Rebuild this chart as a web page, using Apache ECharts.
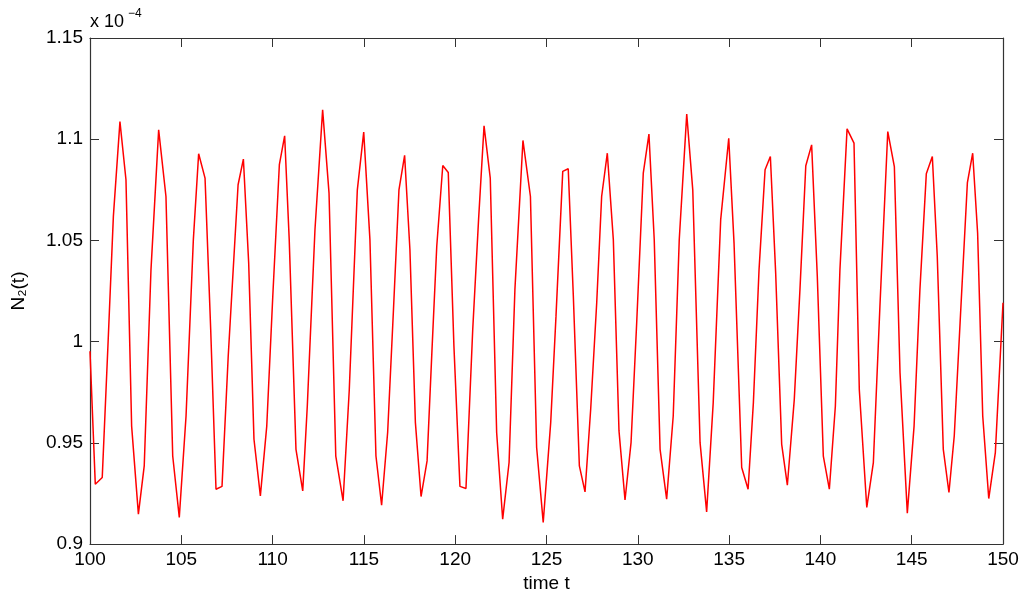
<!DOCTYPE html>
<html>
<head>
<meta charset="utf-8">
<script src="https://cdn.jsdelivr.net/npm/echarts@6/dist/echarts.min.js"></script>
<style>
html,body{margin:0;padding:0;background:#fff;}
#chart{width:1024px;height:598px;}
</style>
</head>
<body>
<div id="chart"></div>
<script>
// time values (t)
const tValues = [100.00,100.29,100.67,100.99,101.28,101.64,101.97,102.28,102.65,102.97,103.34,103.76,104.16,104.53,104.89,105.26,105.66,105.95,106.30,106.61,106.90,107.23,107.57,108.11,108.40,108.69,108.98,109.33,109.68,110.01,110.37,110.66,110.91,111.28,111.65,111.90,112.32,112.74,113.09,113.46,113.86,114.20,114.64,114.99,115.33,115.66,115.97,116.30,116.62,116.92,117.23,117.52,117.82,118.13,118.46,118.73,118.99,119.32,119.62,119.93,120.26,120.59,120.96,121.28,121.58,121.92,122.27,122.60,122.95,123.27,123.71,124.12,124.46,124.82,125.23,125.52,125.89,126.19,126.47,126.80,127.11,127.42,127.75,128.02,128.33,128.66,128.97,129.30,129.63,129.94,130.30,130.61,130.90,131.22,131.58,131.94,132.27,132.68,133.01,133.41,133.77,134.13,134.54,134.98,135.27,135.69,136.04,136.33,136.64,136.97,137.26,137.55,137.88,138.19,138.57,138.88,139.20,139.52,139.83,140.16,140.49,140.82,141.07,141.46,141.84,142.13,142.54,142.90,143.26,143.69,144.05,144.36,144.76,145.13,145.45,145.80,146.13,146.40,146.73,147.04,147.33,147.65,148.05,148.34,148.61,148.89,149.22,149.58,150.00];
// N2(t) values in units of 1e-4
const nValues = [0.9953,0.9296,0.9329,0.9996,1.0619,1.1087,1.0800,0.9583,0.9148,0.9386,1.0356,1.1046,1.0717,0.9435,0.9132,0.9633,1.0504,1.0928,1.0808,1.0060,0.9271,0.9285,0.9929,1.0775,1.0902,1.0389,0.9518,0.9238,0.9583,1.0224,1.0874,1.1017,1.0504,0.9468,0.9263,0.9682,1.0553,1.1145,1.0734,0.9435,0.9214,0.9764,1.0750,1.1035,1.0504,0.9435,0.9192,0.9551,1.0159,1.0750,1.0920,1.0455,0.9600,0.9235,0.9411,0.9962,1.0471,1.0870,1.0836,0.9978,0.9285,0.9275,1.0060,1.0603,1.1066,1.0808,0.9551,0.9123,0.9403,1.0257,1.0994,1.0717,0.9477,0.9107,0.9600,1.0126,1.0841,1.0854,1.0224,0.9386,0.9258,0.9666,1.0192,1.0717,1.0931,1.0504,0.9559,0.9218,0.9501,1.0095,1.0833,1.1025,1.0504,0.9468,0.9222,0.9633,1.0504,1.1124,1.0750,0.9501,0.9159,0.9699,1.0603,1.1005,1.0488,0.9378,0.9271,0.9699,1.0356,1.0849,1.0915,1.0340,0.9493,0.9291,0.9715,1.0257,1.0869,1.0972,1.0323,0.9435,0.9271,0.9682,1.0356,1.1051,1.0981,0.9764,0.9181,0.9403,1.0175,1.1038,1.0865,0.9847,0.9153,0.9583,1.0257,1.0829,1.0915,1.0422,0.9468,0.9255,0.9534,1.0093,1.0786,1.0931,1.0537,0.9633,0.9225,0.9452,1.0192];
const xMin = 100, xMax = 150, xStep = 5;
const yMin = 0.9, yMax = 1.15, yStep = 0.05;

const FONT = '"Liberation Sans", Arial, Helvetica, sans-serif';
const chart = echarts.init(document.getElementById('chart'), null, {renderer: 'canvas'});
const data = tValues.map((t, i) => [t, nValues[i]]);

const lineCol = '#333';
function xAx(pos, labels) {
  return {
    type: 'value', min: xMin, max: xMax, interval: xStep, position: pos,
    axisLine: {show: true, onZero: false, lineStyle: {color: lineCol, width: 1.2}},
    axisTick: {show: true, inside: true, length: 9, lineStyle: {color: lineCol, width: 1}},
    splitLine: {show: false},
    axisLabel: {show: labels, fontSize: 19, color: '#000', fontFamily: FONT, margin: 6},
    name: labels ? 'time t' : '', nameLocation: 'middle', nameGap: 27,
    nameTextStyle: {fontSize: 19, color: '#000', fontFamily: FONT}
  };
}
function yAx(pos, labels) {
  return {
    type: 'value', min: yMin, max: yMax, interval: yStep, position: pos,
    axisLine: {show: true, onZero: false, lineStyle: {color: lineCol, width: 1.2}},
    axisTick: {show: true, inside: true, length: 9, lineStyle: {color: lineCol, width: 1}},
    splitLine: {show: false},
    axisLabel: {show: labels, fontSize: 19, color: '#000', fontFamily: FONT, margin: 7,
      formatter: v => String(Math.round(v * 100) / 100)},
    name: labels ? 'N₂(t)' : '', nameLocation: 'middle', nameGap: 62, nameRotate: 90,
    nameTextStyle: {fontSize: 19, color: '#000', fontFamily: FONT}
  };
}

chart.setOption({
  animation: false,
  backgroundColor: '#fff',
  grid: {left: 90, right: 21, top: 38, bottom: 53, containLabel: false},
  xAxis: [xAx('bottom', true), xAx('top', false)],
  yAxis: [yAx('left', true), yAx('right', false)],
  graphic: [
    {type: 'text', left: 90, top: 13, style: {text: 'x 10', fontSize: 18, fill: '#000', fontFamily: FONT}},
    {type: 'text', left: 128, top: 8, style: {text: '−4', fontSize: 12, fill: '#000', fontFamily: FONT}}
  ],
  series: [{
    type: 'line', xAxisIndex: 0, yAxisIndex: 0, data: data,
    showSymbol: false, symbol: 'none',
    lineStyle: {color: '#ff0000', width: 1.5},
    clip: true
  }]
});
</script>
</body>
</html>
